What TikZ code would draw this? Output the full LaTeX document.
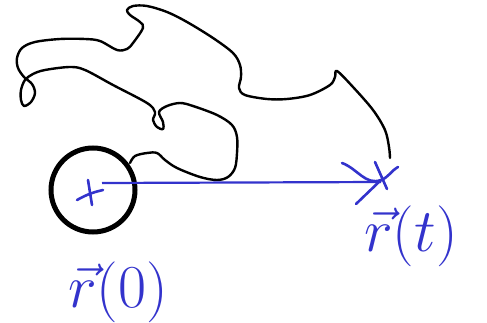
\documentclass[tikz,border=0pt]{standalone}
\usepackage{graphicx}
\usetikzlibrary{positioning}
\definecolor{penblue}{RGB}{51,51,204}
\newcommand{\biglabel}[1]{\scalebox{2.45}{\Huge #1}}

\begin{document}
\begin{tikzpicture}[x=1pt,y=-1pt,
  ink/.style={line width=2.4pt,line cap=round,line join=round},
  blueink/.style={penblue,line width=2.6pt,line cap=round},
  label/.style={penblue,inner sep=0pt}]
\useasboundingbox (0,0) rectangle (487,323);

% Wheel and its centre
\node[draw,circle,line width=5pt,minimum size=84pt,inner sep=0pt] (wheel) at (93,190) {};
\coordinate (r0) at (102,183);
\coordinate (rt) at (381,182);

% Path of the body
\draw[ink] plot[smooth,tension=0.55] coordinates {
  (130,163) (135,156) (147,153) (157,153) (165,160) (177,168) (200,177)
  (217,180) (228,177) (235,168) (237,153) (237,137) (232,125) (217,115)
  (193,106) (180,103) (167,106) (159,112) (163,122) (163,129) (157,127)
  (153,120) (155,112) (147,103) (113,85) (85,70) (70,67) (45,70) (33,74)
  (25,80) (21,90) (21,100) (24,106) (31,102) (35,93) (32,84) (24,77)
  (18,68) (17,58) (22,48) (35,42) (60,39) (85,39) (100,41) (117,50)
  (127,49) (133,43) (143,28) (140,22) (130,15) (127,10) (133,6) (147,6)
  (167,12) (187,22) (213,38) (233,53) (240,65) (241,77) (239,88) (245,95)
  (267,99) (287,99) (310,95) (330,85) (335,77) (337,71) (353,87)
  (373,110) (385,130) (389,147) (390,158)};

% Cross at the start
\draw[blueink] (77,200) to[bend left=8] (103,190);
\draw[blueink] (88,180) -- (92,205);

% Position vector
\draw[penblue,line width=2.2pt] (r0) -- (rt);
\draw[blueink] (342,163) to[out=-20,in=200] (381,180) to[out=20,in=210] (398,167);
\draw[blueink] (381,180) -- (356,204);
\draw[blueink] (375,162) -- (387,189);

% Labels
\node[label] (rtlabel) at (411,236) {\biglabel{$\vec{r}(t)$}};
\node[label] (r0label) at (118,292) {\biglabel{$\vec{r}(0)$}};

\end{tikzpicture}
\end{document}
